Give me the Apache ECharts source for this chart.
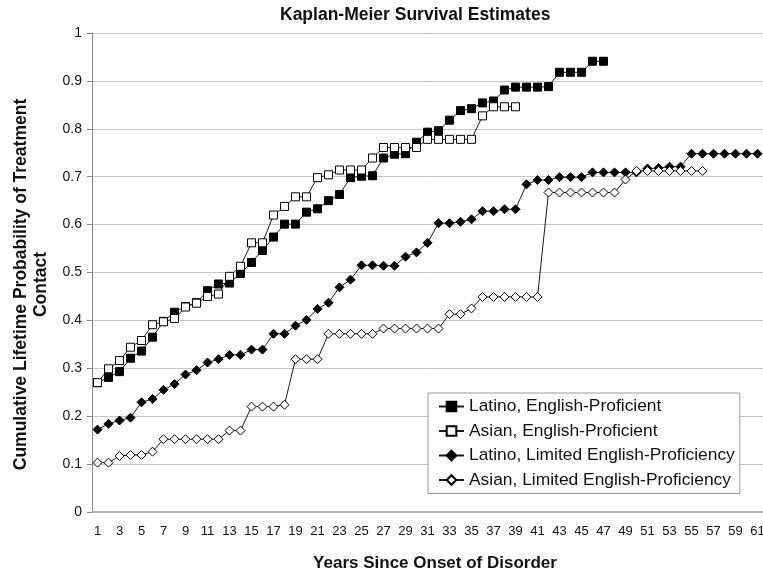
<!DOCTYPE html>
<html>
<head>
<meta charset="utf-8">
<script src="https://cdn.jsdelivr.net/npm/echarts@6/dist/echarts.min.js"></script>
<style>
    html, body { margin: 0; padding: 0; background: #fff; }
    #chart { width: 763px; height: 578px; }
</style>
</head>
<body>
<div id="chart"></div>
<script>
// years since onset (x categories)
var years = ['1', '2', '3', '4', '5', '6', '7', '8', '9', '10',
    '11', '12', '13', '14', '15', '16', '17', '18', '19', '20',
    '21', '22', '23', '24', '25', '26', '27', '28', '29', '30',
    '31', '32', '33', '34', '35', '36', '37', '38', '39', '40',
    '41', '42', '43', '44', '45', '46', '47', '48', '49', '50',
    '51', '52', '53', '54', '55', '56', '57', '58', '59', '60', '61'];

var latinoEP = [0.270, 0.281, 0.293, 0.321, 0.336, 0.365, 0.398, 0.417, 0.429, 0.437,
    0.462, 0.476, 0.478, 0.498, 0.521, 0.546, 0.574, 0.601, 0.601, 0.626,
    0.633, 0.650, 0.663, 0.698, 0.701, 0.702, 0.739, 0.747, 0.748, 0.772,
    0.793, 0.796, 0.818, 0.838, 0.842, 0.854, 0.858, 0.881, 0.887, 0.887,
    0.887, 0.888, 0.918, 0.918, 0.918, 0.941, 0.941];

var asianEP = [0.270, 0.299, 0.316, 0.344, 0.358, 0.391, 0.397, 0.404, 0.428, 0.436,
    0.450, 0.455, 0.492, 0.513, 0.562, 0.562, 0.620, 0.638, 0.658, 0.658,
    0.698, 0.704, 0.714, 0.714, 0.714, 0.739, 0.761, 0.761, 0.761, 0.761,
    0.778, 0.778, 0.778, 0.778, 0.778, 0.827, 0.846, 0.846, 0.846];

var latinoLEP = [0.172, 0.184, 0.191, 0.197, 0.229, 0.236, 0.255, 0.267, 0.287, 0.296,
    0.312, 0.319, 0.328, 0.328, 0.339, 0.339, 0.372, 0.372, 0.389, 0.401,
    0.424, 0.437, 0.469, 0.485, 0.515, 0.515, 0.514, 0.514, 0.533, 0.542,
    0.562, 0.603, 0.603, 0.606, 0.611, 0.628, 0.628, 0.632, 0.632, 0.684,
    0.693, 0.693, 0.699, 0.699, 0.699, 0.709, 0.709, 0.709, 0.709, 0.709,
    0.717, 0.718, 0.721, 0.721, 0.748, 0.748, 0.748, 0.748, 0.748, 0.748, 0.748];

var asianLEP = [0.103, 0.103, 0.117, 0.119, 0.119, 0.126, 0.152, 0.152, 0.152, 0.152,
    0.152, 0.152, 0.170, 0.170, 0.220, 0.220, 0.220, 0.224, 0.319, 0.319,
    0.319, 0.372, 0.372, 0.372, 0.372, 0.372, 0.383, 0.383, 0.383, 0.383,
    0.383, 0.383, 0.413, 0.413, 0.425, 0.449, 0.449, 0.449, 0.449, 0.449,
    0.449, 0.667, 0.667, 0.667, 0.667, 0.667, 0.667, 0.667, 0.694, 0.712,
    0.712, 0.712, 0.712, 0.712, 0.712, 0.712];

var names = ['Latino, English-Proficient', 'Asian, English-Proficient',
    'Latino, Limited English-Proficiency', 'Asian, Limited English-Proficiency'];

function mkSeries(name, data, symbol, size, filled) {
    return {
        name: name,
        type: 'line',
        data: data,
        symbol: symbol,
        symbolSize: size,
        showAllSymbol: true,
        animation: false,
        lineStyle: { color: '#1a1a1a', width: 1 },
        itemStyle: {
            color: filled ? '#000' : '#fff',
            borderColor: '#000',
            borderWidth: 1
        }
    };
}

var chart = echarts.init(document.getElementById('chart'));
var font = 'Liberation Sans, Arial, sans-serif';

chart.setOption({
    backgroundColor: '#fff',
    animation: false,
    title: {
        text: 'Kaplan-Meier Survival Estimates',
        left: 280,
        top: 6,
        padding: 0,
        textStyle: { fontFamily: font, fontSize: 17.5, fontWeight: 'bold', color: '#111' }
    },
    legend: {
        orient: 'vertical',
        left: 428,
        top: 393,
        padding: [5, 5, 5, 10],
        itemWidth: 25,
        itemHeight: 12,
        itemGap: 7.5,
        backgroundColor: '#fff',
        borderColor: '#999',
        borderWidth: 1,
        textStyle: { fontFamily: font, fontSize: 17.4, color: '#111' },
        data: names
    },
    grid: { left: 92, right: 0, top: 33, bottom: 66, outerBoundsMode: 'none' },
    xAxis: {
        type: 'category',
        data: years,
        boundaryGap: true,
        name: 'Years Since Onset of Disorder',
        nameLocation: 'middle',
        nameGap: 43,
        nameTextStyle: {
            fontFamily: font, fontSize: 17, fontWeight: 'bold', color: '#111',
            padding: [0, 0, 0, 15]
        },
        axisLine: { lineStyle: { color: '#b4b4b4', width: 2 } },
        axisTick: { show: false },
        axisLabel: {
            interval: 1,
            margin: 13,
            fontFamily: 'Liberation Sans Narrow, Liberation Sans, sans-serif',
            fontSize: 13,
            color: '#111'
        }
    },
    yAxis: {
        type: 'value',
        min: 0,
        max: 1,
        interval: 0.1,
        name: 'Cumulative Lifetime Probability of Treatment\nContact',
        nameLocation: 'middle',
        nameGap: 37,
        nameTextStyle: {
            fontFamily: font, fontSize: 17.5, fontWeight: 'bold', color: '#111',
            lineHeight: 20,
            padding: [0, 24, 0, 0]
        },
        axisLine: { show: true, lineStyle: { color: '#888', width: 1 } },
        axisTick: { show: true, length: 5, lineStyle: { color: '#888' } },
        axisLabel: { margin: 10, fontFamily: font, fontSize: 14, color: '#111' },
        splitLine: { lineStyle: { color: '#c4c4c4', width: 1 } }
    },
    series: [
        mkSeries(names[0], latinoEP, 'rect', 8, true),
        mkSeries(names[1], asianEP, 'rect', 8, false),
        mkSeries(names[2], latinoLEP, 'diamond', 9, true),
        mkSeries(names[3], asianLEP, 'diamond', 9, false)
    ]
});
</script>
</body>
</html>
